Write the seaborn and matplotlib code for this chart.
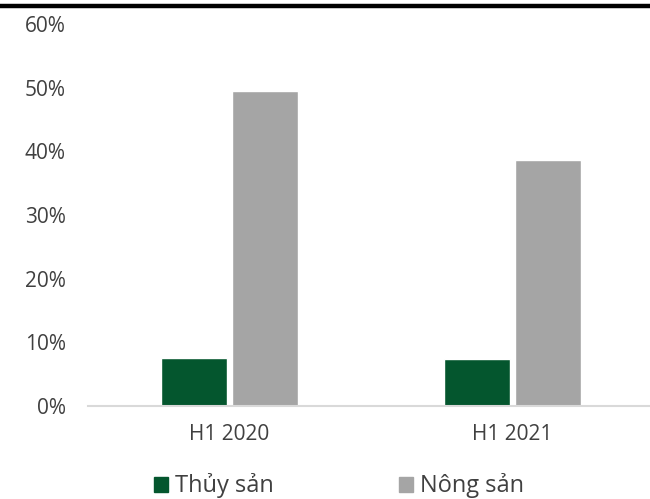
import matplotlib
matplotlib.use("Agg")
import matplotlib.pyplot as plt
import matplotlib.lines as mlines
import matplotlib.patches as mpatches
from matplotlib.ticker import PercentFormatter
import pandas as pd
import seaborn as sns

periods = ["H1 2020", "H1 2021"]
series = ["Thủy sản", "Nông sản"]
thuy_san = [7.6, 7.4]
nong_san = [49.4, 38.7]
colors = ["#04562E", "#A5A5A5"]

df = pd.DataFrame({
    "period": periods * 2,
    "group": [series[0]] * 2 + [series[1]] * 2,
    "value": thuy_san + nong_san,
})

sns.set_theme(style="white")
plt.rcParams["font.family"] = ["Open Sans", "DejaVu Sans"]
text_color = "#404040"

fig = plt.figure(figsize=(6.5, 4.99), dpi=100)
ax = fig.add_axes([88 / 650, 1 - 406 / 499, 566 / 650, 382 / 499])

sns.barplot(data=df, x="period", y="value", hue="group", palette=colors,
            width=0.5, gap=0.07, saturation=1, ax=ax, legend=False)

ax.set_ylim(0, 60)
ax.set_xlim(-0.5, 1.5)
ax.set_yticks(range(0, 61, 10))
ax.yaxis.set_major_formatter(PercentFormatter(decimals=0))
ax.set_xlabel("")
ax.set_ylabel("")
ax.tick_params(axis="both", length=0, labelsize=15, colors=text_color)
ax.tick_params(axis="y", pad=16)
ax.tick_params(axis="x", pad=13)
for s in ["top", "right", "left"]:
    ax.spines[s].set_visible(False)
ax.spines["bottom"].set_color("#D9D9D9")
ax.spines["bottom"].set_linewidth(1.5)

handles = [mpatches.Patch(color=c, label=s) for c, s in zip(colors, series)]
fig.legend(handles=handles, loc="center", bbox_to_anchor=(339 / 650, 1 - 486 / 499),
           ncol=2, frameon=False, fontsize=17, handlelength=0.6, handleheight=0.6,
           handletextpad=0.3, columnspacing=5.3, labelcolor=text_color)

fig.add_artist(mlines.Line2D([0, 1], [1 - 5.5 / 499, 1 - 5.5 / 499], color="black",
                             linewidth=3.2, transform=fig.transFigure))

fig.savefig("out.png", dpi=100)
